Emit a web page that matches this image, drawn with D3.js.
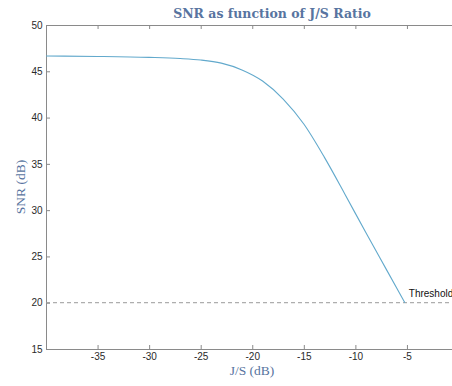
<!DOCTYPE html>
<html>
<head>
<meta charset="utf-8">
<script src="https://cdn.jsdelivr.net/npm/d3@7"></script>
<style>
  html, body { margin: 0; padding: 0; background: #fff; }
  svg { display: block; }
</style>
</head>
<body>
<div id="chart"></div>
<script>
// SNR versus jammer-to-signal ratio
const jsRatio = [-40, -35, -30, -27, -25, -23, -21, -19, -17, -15, -13, -11, -9, -7, -5.2];
const snrDb   = [46.65, 46.6, 46.5, 46.38, 46.22, 45.88, 45.15, 43.95, 42.0, 39.3, 35.7, 31.7, 27.6, 23.6, 20];
const thresholdDb = 20;
const xTicks = [-35, -30, -25, -20, -15, -10, -5];
const yTicks = [15, 20, 25, 30, 35, 40, 45, 50];

const W = 452, H = 386;
const margin = { left: 46, top: 25, right: -6.5, bottom: 37 };

const svg = d3.select("#chart").append("svg")
  .attr("width", W).attr("height", H);

const x = d3.scaleLinear().domain([-40, 0]).range([margin.left, W - margin.right]);
const y = d3.scaleLinear().domain([15, 50]).range([H - margin.bottom, margin.top]);

const axisColor = "#8a8a8a";
const labelColor = "#2a2a2a";
const blueText = "#5874a0";
const plain = d => String(d);

function styleAxis(g, showText) {
  g.select(".domain").attr("stroke", axisColor).attr("stroke-width", 1);
  g.selectAll(".tick line").attr("stroke", axisColor);
  g.selectAll(".tick text")
    .attr("fill", labelColor)
    .style("font-family", "Liberation Sans, Arial, sans-serif")
    .style("font-size", "10px")
    .style("display", showText ? null : "none");
}

// bottom axis, ticks pointing into the plot
svg.append("g")
  .attr("transform", `translate(0,${y(15)})`)
  .call(d3.axisBottom(x).tickValues(xTicks).tickFormat(plain)
    .tickSizeInner(-4).tickSizeOuter(0).tickPadding(4))
  .call(g => styleAxis(g, true));

// top axis
svg.append("g")
  .attr("transform", `translate(0,${y(50)})`)
  .call(d3.axisTop(x).tickValues(xTicks).tickSizeInner(-4).tickSizeOuter(0))
  .call(g => styleAxis(g, false));

// left axis
svg.append("g")
  .attr("transform", `translate(${x(-40)},0)`)
  .call(d3.axisLeft(y).tickValues(yTicks).tickFormat(plain)
    .tickSizeInner(-4).tickSizeOuter(0).tickPadding(3.5))
  .call(g => styleAxis(g, true));

// threshold line
svg.append("line")
  .attr("x1", x(-40)).attr("x2", W)
  .attr("y1", y(thresholdDb)).attr("y2", y(thresholdDb))
  .attr("stroke", "#9a9a9a").attr("stroke-width", 1)
  .attr("stroke-dasharray", "4,3");

svg.append("text")
  .attr("x", x(-5.4) + 6).attr("y", y(thresholdDb) - 6)
  .attr("fill", "#111")
  .style("font-family", "Liberation Sans, Arial, sans-serif")
  .style("font-size", "10px")
  .text("Threshold");

// SNR curve
const pts = jsRatio.map((v, i) => [v, snrDb[i]]);
svg.append("path")
  .datum(pts)
  .attr("fill", "none")
  .attr("stroke", "#62a9cc")
  .attr("stroke-width", 1.1)
  .attr("d", d3.line().x(d => x(d[0])).y(d => y(d[1])).curve(d3.curveMonotoneX));

// titles
svg.append("text")
  .attr("x", 272).attr("y", 18)
  .attr("text-anchor", "middle")
  .attr("fill", blueText)
  .style("font-family", "DejaVu Serif, Liberation Serif, serif")
  .style("font-weight", "bold")
  .style("font-size", "12.5px")
  .text("SNR as function of J/S Ratio");

svg.append("text")
  .attr("x", 252).attr("y", 375)
  .attr("text-anchor", "middle")
  .attr("fill", blueText)
  .style("font-family", "Liberation Serif, serif")
  .style("font-size", "13.5px")
  .text("J/S (dB)");

svg.append("text")
  .attr("transform", `translate(25,${(y(15) + y(50)) / 2}) rotate(-90)`)
  .attr("text-anchor", "middle")
  .attr("fill", blueText)
  .style("font-family", "Liberation Serif, serif")
  .style("font-size", "13.5px")
  .text("SNR (dB)");
</script>
</body>
</html>
